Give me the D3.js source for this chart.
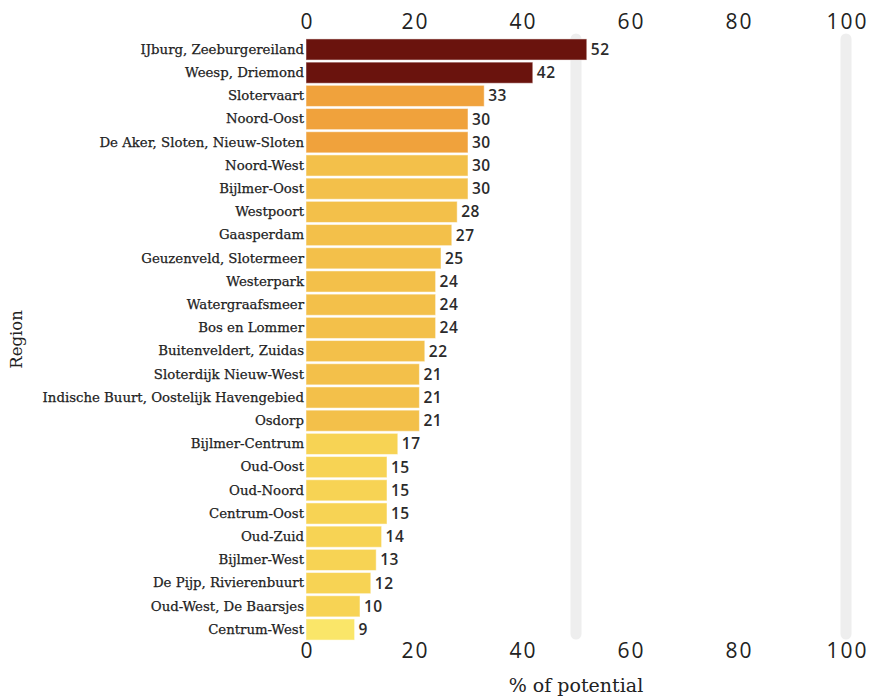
<!DOCTYPE html>
<html>
<head>
<meta charset="utf-8">
<script src="https://cdn.jsdelivr.net/npm/d3@7"></script>
<style>
  html, body { margin: 0; padding: 0; background: #fff; }
  svg { display: block; }
  .cat text { font-family: "DejaVu Serif", serif; font-size: 13.3px; fill: #222; stroke: #222; stroke-width: 0.25px; }
  .tick-lbl { font-family: "Open Sans", "Noto Sans", sans-serif; font-size: 21px; letter-spacing: 2px; fill: #222; }
  .val { font-family: "Open Sans", "Noto Sans", sans-serif; font-size: 15.5px; font-weight: 600; letter-spacing: 0.5px; fill: #2b2b2b; }
  .ax-title { font-family: "DejaVu Serif", serif; fill: #222; }
</style>
</head>
<body>
<svg id="chart" width="869" height="698"></svg>
<script>
// Share of potential reached per Amsterdam region (%)
const regions = [
  "IJburg, Zeeburgereiland", "Weesp, Driemond", "Slotervaart", "Noord-Oost",
  "De Aker, Sloten, Nieuw-Sloten", "Noord-West", "Bijlmer-Oost", "Westpoort",
  "Gaasperdam", "Geuzenveld, Slotermeer", "Westerpark", "Watergraafsmeer",
  "Bos en Lommer", "Buitenveldert, Zuidas", "Sloterdijk Nieuw-West",
  "Indische Buurt, Oostelijk Havengebied", "Osdorp", "Bijlmer-Centrum",
  "Oud-Oost", "Oud-Noord", "Centrum-Oost", "Oud-Zuid", "Bijlmer-West",
  "De Pijp, Rivierenbuurt", "Oud-West, De Baarsjes", "Centrum-West"
];
const potential = [52, 42, 33, 30, 30, 30, 30, 28, 27, 25, 24, 24, 24, 22, 21, 21, 21, 17, 15, 15, 15, 14, 13, 12, 10, 9];
// Colour group of each region
const tier = [0, 0, 1, 1, 1, 2, 2, 2, 2, 2, 2, 2, 2, 2, 2, 2, 2, 3, 3, 3, 3, 3, 3, 3, 3, 4];
const xTicks = [0, 20, 40, 60, 80, 100];
const refLines = [50, 100];

const tierColors = ["#6a130d", "#f0a23c", "#f3c04a", "#f7d354", "#fae669"];

const svg = d3.select("#chart");
const x = d3.scaleLinear().domain([0, 100]).range([306, 846]);
const y = d3.scaleBand().domain(regions).range([38, 641]).paddingInner(0.09).paddingOuter(0.04);
const color = d3.scaleOrdinal().domain(d3.range(tierColors.length)).range(tierColors);

// Rounded grey reference bars
svg.append("g").selectAll("line").data(refLines).join("line")
  .attr("x1", d => x(d)).attr("x2", d => x(d))
  .attr("y1", 39).attr("y2", 634)
  .attr("stroke", "#eeeeee").attr("stroke-width", 11).attr("stroke-linecap", "round");

// Bars
svg.append("g").selectAll("rect").data(regions).join("rect")
  .attr("x", x(0))
  .attr("y", d => y(d))
  .attr("width", (d, i) => x(potential[i]) - x(0))
  .attr("height", y.bandwidth())
  .attr("fill", (d, i) => color(tier[i]))
  .attr("stroke", "#ffffff").attr("stroke-opacity", 0.5).attr("stroke-width", 1);

// Value labels
svg.append("g").selectAll("text").data(regions).join("text")
  .attr("class", "val")
  .attr("x", (d, i) => x(potential[i]) + 4)
  .attr("y", d => y(d) + y.bandwidth() / 2)
  .attr("dy", "0.36em")
  .text((d, i) => potential[i]);

// Category axis
const yAxis = svg.append("g").attr("class", "cat")
  .attr("transform", `translate(${x(0)},0)`)
  .call(d3.axisLeft(y).tickSize(0).tickPadding(2));
yAxis.select(".domain").remove();
yAxis.attr("font-family", null).attr("font-size", null);

// Top and bottom value axes
function styleTicks(g) {
  g.select(".domain").remove();
  g.attr("font-family", null).attr("font-size", null);
  g.selectAll("text").attr("class", "tick-lbl").attr("fill", null);
}
svg.append("g").attr("transform", "translate(1,29)")
  .call(d3.axisTop(x).tickValues(xTicks).tickSize(0).tickPadding(0))
  .call(styleTicks);
svg.append("g").attr("transform", "translate(1,643)")
  .call(d3.axisBottom(x).tickValues(xTicks).tickSize(0).tickPadding(0))
  .call(styleTicks);

// Axis titles
svg.append("text").attr("class", "ax-title")
  .attr("x", x(50)).attr("y", 692).attr("text-anchor", "middle")
  .attr("font-size", 19)
  .text("% of potential");
svg.append("text").attr("class", "ax-title")
  .attr("transform", `translate(22,${(y.range()[0] + y.range()[1]) / 2}) rotate(-90)`)
  .attr("text-anchor", "middle")
  .attr("font-size", 16.5)
  .text("Region");
</script>
</body>
</html>
